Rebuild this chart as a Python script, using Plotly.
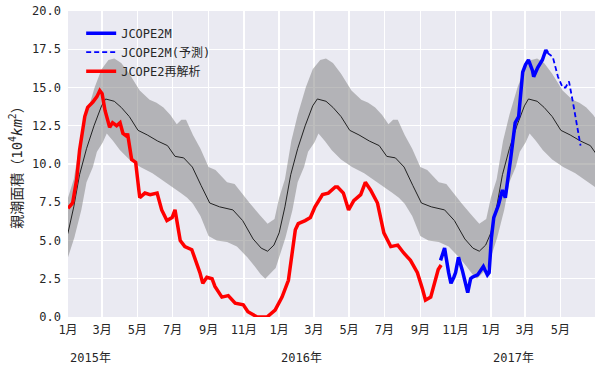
import plotly.graph_objects as go

# ---- climatology (one year, MM-DD) ----
clim_mean_md = ["01-01","01-11","01-21","02-02","02-15","02-28","03-07","03-22","04-03","04-17",
                "05-02","05-18","06-05","06-22","07-05","07-20","08-04","08-19","09-03","09-20",
                "10-13","10-30","11-17","12-01","12-12","12-23"]
clim_mean = [5.5,7.2,9.3,11.0,12.5,13.8,14.25,14.1,13.7,13.1,
             12.2,11.9,11.5,11.2,10.5,10.4,9.8,8.6,7.45,7.2,
             7.0,6.3,5.1,4.5,4.3,4.7]

clim_upper_md = ["01-01","01-11","01-22","02-02","02-16","02-28","03-12","03-22","04-03","04-17",
                 "05-05","05-22","06-03","06-15","06-27","07-08","07-16","07-24","08-05","08-18",
                 "09-01","09-13","09-21","10-03","10-16","10-30","11-12","11-30","12-12","12-24"]
clim_upper = [7.8,9.0,11.5,13.2,15.0,16.2,16.8,16.9,16.6,15.9,
              14.8,14.2,14.0,13.7,13.2,12.6,12.9,12.9,11.9,11.0,
              9.8,9.6,9.3,8.8,8.7,8.0,7.4,6.6,6.1,6.4]

clim_lower_md = ["01-01","01-12","01-24","02-02","02-13","02-20","03-02","03-09","03-20","04-01",
                 "04-17","05-06","05-27","06-15","07-02","07-15","07-26","08-05","08-18","09-01",
                 "09-15","10-03","10-20","11-07","11-20","11-30","12-08","12-19","12-26"]
clim_lower = [3.9,5.2,7.0,8.8,9.8,10.8,11.4,12.0,11.5,10.9,
              10.3,9.8,9.4,8.9,8.5,8.1,7.8,7.4,6.6,5.3,
              5.0,4.9,4.6,3.9,3.3,2.8,2.5,2.9,3.2]

clim_years = [2014, 2015, 2016, 2017]

# ---- JCOPE2 reanalysis ----
rean_dates = ["2015-01-01","2015-01-09","2015-01-16","2015-01-21","2015-01-30","2015-02-04","2015-02-13",
              "2015-02-20","2015-02-25","2015-03-01","2015-03-06","2015-03-11","2015-03-14","2015-03-19",
              "2015-03-26","2015-04-01","2015-04-06","2015-04-13","2015-04-14","2015-04-21","2015-04-28",
              "2015-05-05","2015-05-14","2015-05-23","2015-06-04","2015-06-12","2015-06-21","2015-06-30",
              "2015-07-05","2015-07-14","2015-07-22","2015-08-03","2015-08-08","2015-08-17","2015-08-22",
              "2015-08-29","2015-09-07","2015-09-12","2015-09-24","2015-10-05","2015-10-17","2015-10-31",
              "2015-11-08","2015-11-24","2015-12-11","2015-12-25","2016-01-06","2016-01-17","2016-01-29",
              "2016-02-03","2016-02-15","2016-02-24","2016-03-03","2016-03-16","2016-03-26","2016-04-07",
              "2016-04-11","2016-04-21","2016-04-30","2016-05-09","2016-05-21","2016-05-29","2016-06-07",
              "2016-06-19","2016-06-30","2016-07-12","2016-07-24","2016-08-03","2016-08-15","2016-08-27",
              "2016-09-05","2016-09-10","2016-09-19","2016-09-27","2016-10-02","2016-10-07"]
rean_vals = [7.1,7.45,9.0,10.9,13.1,13.7,14.05,
             14.4,14.8,14.6,13.5,12.7,12.4,12.7,
             12.5,12.7,12.0,11.8,12.0,10.3,10.1,
             7.8,8.1,8.0,8.1,7.0,6.3,6.5,
             7.0,5.0,4.6,4.4,3.9,2.9,2.2,
             2.6,2.5,2.0,1.3,1.4,0.9,0.8,
             0.35,0.0,0.0,0.45,1.3,2.4,5.7,
             6.1,6.3,6.5,7.2,8.0,8.1,8.5,
             8.5,8.1,7.0,7.6,8.0,8.8,8.3,
             7.45,5.5,4.6,4.7,4.2,3.7,2.9,
             1.8,1.1,1.3,2.4,3.1,3.4]

# ---- JCOPE2M ----
jm_dates = ["2016-10-06","2016-10-13","2016-10-20","2016-10-24","2016-10-29","2016-11-01","2016-11-06",
            "2016-11-13","2016-11-22","2016-11-27","2016-11-30","2016-12-09","2016-12-19","2016-12-26",
            "2016-12-29","2017-01-02","2017-01-06","2017-01-14","2017-01-21","2017-01-26","2017-02-04",
            "2017-02-12","2017-02-18","2017-02-25","2017-03-02","2017-03-07","2017-03-14","2017-03-16",
            "2017-03-23","2017-03-31","2017-04-06","2017-04-09"]
jm_vals = [3.7,4.5,2.9,2.2,2.6,2.9,3.9,
           3.0,1.6,2.5,2.6,2.75,3.3,2.75,
           2.9,5.2,6.5,7.3,8.3,7.8,10.3,
           12.7,13.1,16.0,16.5,16.8,16.1,15.7,
           16.3,16.8,17.45,17.25]

# ---- JCOPE2M forecast ----
fc_dates = ["2017-04-09","2017-04-18","2017-04-27","2017-05-05","2017-05-10","2017-05-16","2017-05-23",
            "2017-06-01","2017-06-05"]
fc_vals = [17.25,17.0,15.7,15.0,15.0,15.4,14.0,12.2,11.2]

# ---- axis labels ----
tick_dates = ["2015-01-01","2015-03-01","2015-05-01","2015-07-01","2015-09-01","2015-11-01",
              "2016-01-01","2016-03-01","2016-05-01","2016-07-01","2016-09-01","2016-11-01",
              "2017-01-01","2017-03-01","2017-05-01"]
tick_text = ["1月","3月","5月","7月","9月","11月","1月","3月","5月","7月","9月","11月","1月","3月","5月"]
year_dates = ["2015-01-01","2016-01-01","2017-01-01"]
year_text = ["2015年","2016年","2017年"]
y_ticks = [0.0,2.5,5.0,7.5,10.0,12.5,15.0,17.5,20.0]


def tile(md, vals):
    xs, ys = [], []
    for yr in clim_years:
        for m, v in zip(md, vals):
            xs.append(f"{yr}-{m}")
            ys.append(v)
    return xs, ys


FONT = "DejaVu Sans Mono, Noto Sans CJK JP, monospace"
TXT = "#262626"
fig = go.Figure()

ux, uy = tile(clim_upper_md, clim_upper)
lx, ly = tile(clim_lower_md, clim_lower)
mx, my = tile(clim_mean_md, clim_mean)

fig.add_trace(go.Scatter(x=ux, y=uy, mode="lines", line=dict(width=0, color="rgba(0,0,0,0)"),
                         showlegend=False, hoverinfo="skip"))
fig.add_trace(go.Scatter(x=lx, y=ly, mode="lines", line=dict(width=0, color="rgba(0,0,0,0)"),
                         fill="tonexty", fillcolor="rgba(128,128,128,0.52)",
                         showlegend=False, hoverinfo="skip"))
fig.add_trace(go.Scatter(x=mx, y=my, mode="lines", line=dict(width=1, color="#222222"),
                         showlegend=False))

fig.add_trace(go.Scatter(x=jm_dates, y=jm_vals, mode="lines", name="JCOPE2M", legendgroup="a",
                         line=dict(color="#0000ff", width=3.5)))
fig.add_trace(go.Scatter(x=fc_dates, y=fc_vals, mode="lines", name="JCOPE2M(予測)", legendgroup="b",
                         line=dict(color="#0000ff", width=1.8, dash="5px,3px")))
fig.add_trace(go.Scatter(x=rean_dates, y=rean_vals, mode="lines", name="JCOPE2再解析", legendgroup="c",
                         line=dict(color="#ff0000", width=3.5)))

for d, t in zip(year_dates, year_text):
    fig.add_annotation(x=d, y=0, xref="x", yref="paper", text=t, showarrow=False,
                       xanchor="left", yanchor="top", yshift=-32,
                       font=dict(family=FONT, size=12, color=TXT))

fig.update_layout(
    width=600, height=369,
    margin=dict(l=68, r=5, t=11, b=52, autoexpand=False),
    paper_bgcolor="white", plot_bgcolor="#EAEAF2",
    font=dict(family=FONT, size=12, color=TXT),
    legend=dict(x=0.025, y=0.975, xanchor="left", yanchor="top", bgcolor="rgba(0,0,0,0)",
                traceorder="normal", tracegroupgap=4,
                font=dict(family=FONT, size=12, color=TXT)),
    xaxis=dict(range=["2015-01-01", "2017-06-30"], tickvals=tick_dates, ticktext=tick_text,
               showgrid=True, gridcolor="white", gridwidth=1.3, zeroline=False,
               ticks="", showline=False, ticklabelstandoff=4, ticklabeloverflow="allow"),
    yaxis=dict(range=[0, 20], tickvals=y_ticks, tickformat=".1f",
               showgrid=True, gridcolor="white", gridwidth=1.3, zeroline=False,
               ticks="", showline=False, ticklabelstandoff=6, ticklabeloverflow="allow",
               automargin=False,
               title=dict(text="親潮面積（10<sup>4</sup><i>km</i><sup>2</sup>）", standoff=6,
                          font=dict(family=FONT, size=14, color=TXT))),
    showlegend=True,
)

fig.write_html("out.html", config={"displayModeBar": False, "staticPlot": True},
               post_script="document.body.style.margin='0';document.body.style.overflow='hidden';")
